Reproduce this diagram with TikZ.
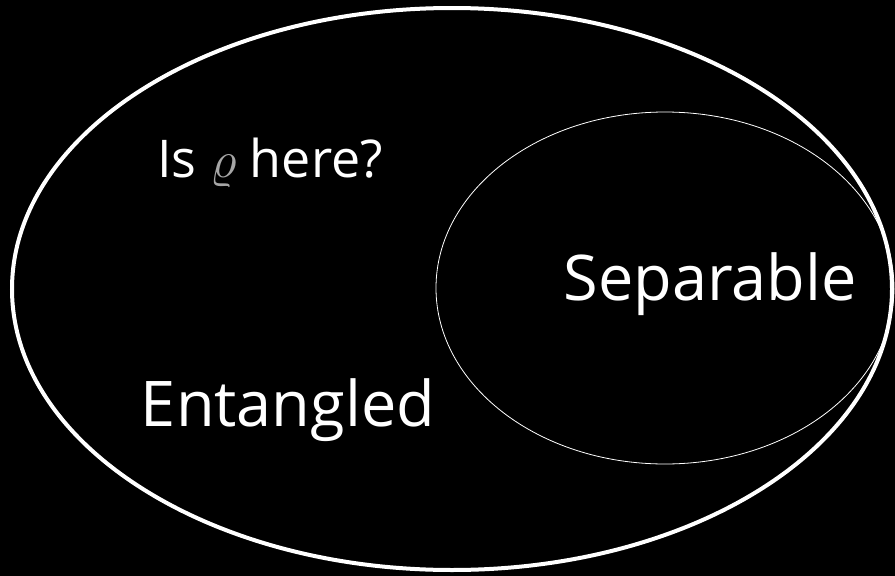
\documentclass[tikz,border=0pt]{standalone}
\usepackage{fontspec}
\setmainfont{Open Sans}
\usetikzlibrary{positioning}

\begin{document}
\begin{tikzpicture}[
  x=1pt, y=-1pt,
  setline/.style={draw=white},
  biglabel/.style={text=white, font=\fontsize{63}{72}\selectfont, inner sep=0pt},
  asklabel/.style={text=white, font=\fontsize{52}{60}\selectfont, inner sep=0pt}
]
\fill[black] (0,0) rectangle (895,576);
\useasboundingbox (0,0) rectangle (895,576);

% all states and separable states
\draw[setline, line width=4pt] (452,289) ellipse [x radius=440, y radius=281];
\draw[setline, line width=0.8pt] (665,288) ellipse [x radius=229, y radius=176];

\node[asklabel] (ask) at (270,163) {Is {\color{gray!70}\scalebox{2.1}{$\varrho$}} here?};
\node[biglabel] (sep) at (710,284) {Separable};
\node[biglabel] (ent) at (288,410) {Entangled};
\end{tikzpicture}
\end{document}
